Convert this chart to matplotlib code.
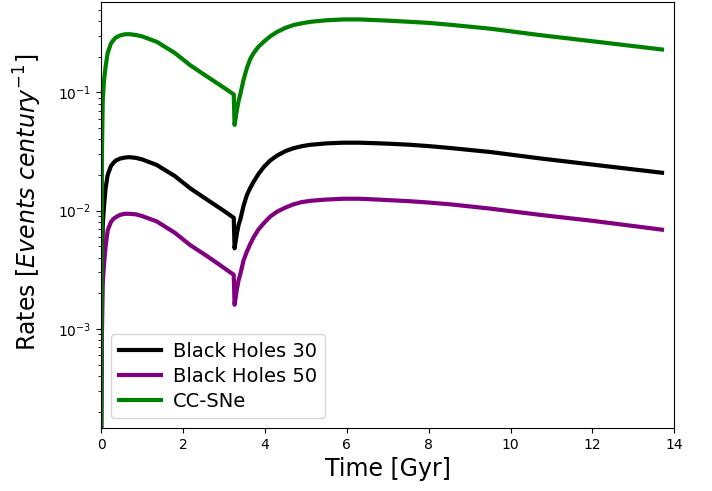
import matplotlib
matplotlib.use("Agg")
import matplotlib.pyplot as plt

# Time grid (Gyr) and rates
time = [0.0, 0.02, 0.04, 0.07, 0.11, 0.16, 0.24, 0.30, 0.36, 0.46, 0.58, 0.69,
        0.85, 1.0, 1.36, 1.8, 2.18, 2.6, 2.99, 3.24, 3.26, 3.29, 3.32, 3.36,
        3.40, 3.48, 3.56, 3.64, 3.72, 3.84, 3.97, 4.13, 4.30, 4.50, 4.70, 4.90,
        5.11, 5.50, 5.92, 6.3, 6.74, 7.15, 7.55, 8.0, 8.53, 9.5, 10.73, 12.0, 13.7]

bh30 = [1e-4, 0.0027, 0.0075, 0.0108, 0.0155, 0.0200, 0.0238, 0.0253, 0.0265,
        0.0275, 0.0281, 0.0283, 0.0279, 0.0271, 0.0243, 0.0196, 0.0154, 0.0123,
        0.0100, 0.0087, 0.0048, 0.0056, 0.0065, 0.0076, 0.0084, 0.0110, 0.0135,
        0.0155, 0.0174, 0.0203, 0.0233, 0.0265, 0.0292, 0.0318, 0.0337, 0.0350,
        0.0360, 0.0370, 0.0375, 0.0375, 0.0371, 0.0366, 0.0360, 0.0351, 0.0338,
        0.0313, 0.0276, 0.0245, 0.0209]

bh50 = [1e-4, 0.0009, 0.0024, 0.0035, 0.0050, 0.0068, 0.0080, 0.0085, 0.0088,
        0.0092, 0.0094, 0.0094, 0.0093, 0.0090, 0.0081, 0.0065, 0.0051, 0.0041,
        0.0033, 0.00287, 0.00160, 0.00188, 0.0022, 0.0026, 0.0029, 0.0038,
        0.0045, 0.0052, 0.0059, 0.0069, 0.0078, 0.0089, 0.0098, 0.0106, 0.0113,
        0.0118, 0.0121, 0.0124, 0.0126, 0.0126, 0.0124, 0.0122, 0.0120, 0.0117,
        0.0113, 0.0104, 0.0092, 0.0082, 0.0069]

ccsne = [1e-4, 0.030, 0.085, 0.125, 0.165, 0.215, 0.258, 0.276, 0.290, 0.302,
         0.309, 0.310, 0.305, 0.297, 0.267, 0.215, 0.169, 0.135, 0.110, 0.096,
         0.053, 0.062, 0.072, 0.085, 0.096, 0.128, 0.160, 0.190, 0.213, 0.242,
         0.267, 0.297, 0.324, 0.350, 0.370, 0.383, 0.394, 0.406, 0.413, 0.413,
         0.407, 0.401, 0.394, 0.386, 0.372, 0.345, 0.304, 0.270, 0.230]

fig = plt.figure(figsize=(7.12, 4.91), dpi=100)
ax = fig.add_axes([0.142, 0.128, 0.805, 0.868])

ax.plot(time, bh30, color='black', lw=3, label='Black Holes 30')
ax.plot(time, bh50, color='purple', lw=3, label='Black Holes 50')
ax.plot(time, ccsne, color='green', lw=3, label='CC-SNe')

ax.set_yscale('log')
ax.set_xlim(0, 14)
ax.set_ylim(1.45e-4, 0.58)
ax.set_xlabel('Time [Gyr]', fontsize=17)
ax.set_ylabel(r'Rates [$Events\ century^{-1}$]', fontsize=17)
ax.yaxis.set_label_coords(-0.100, 0.53)
ax.legend(loc='lower left', fontsize=14, labelspacing=0.3, handlelength=2.2,
          handletextpad=0.6)

fig.savefig('out.png', dpi=100)
